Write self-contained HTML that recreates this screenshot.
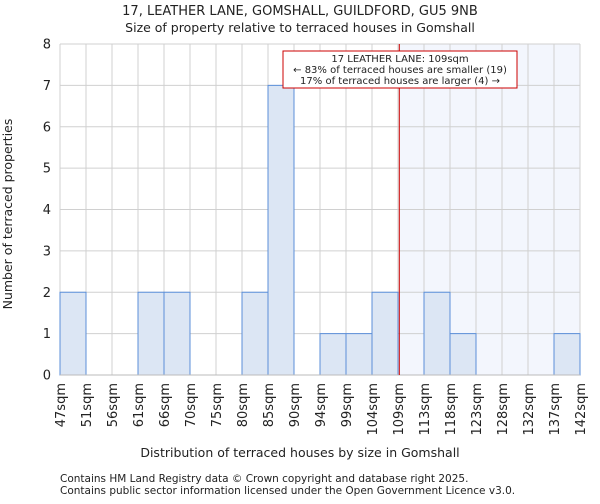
<!DOCTYPE html>
<html><head><meta charset="utf-8"><style>
body{margin:0;background:#fff;font-family:"DejaVu Sans","Liberation Sans",sans-serif;}
svg text{font-family:"DejaVu Sans","Liberation Sans",sans-serif;fill:#222;}
</style></head><body>
<svg id="c" width="600" height="500">
<text x="300" y="15" font-size="13" text-anchor="middle">17, LEATHER LANE, GOMSHALL, GUILDFORD, GU5 9NB</text>
<text x="300" y="32" font-size="12.5" text-anchor="middle">Size of property relative to terraced houses in Gomshall</text>
<g id="plot"></g>
<text x="300" y="457" font-size="12.5" text-anchor="middle">Distribution of terraced houses by size in Gomshall</text>
<text transform="translate(12,214) rotate(-90)" font-size="12.5" text-anchor="middle">Number of terraced properties</text>
<text x="60" y="482" font-size="10.5">Contains HM Land Registry data © Crown copyright and database right 2025.</text>
<text x="60" y="494" font-size="10.5">Contains public sector information licensed under the Open Government Licence v3.0.</text>
</svg>
<script>
const categories=["47sqm","51sqm","56sqm","61sqm","66sqm","70sqm","75sqm","80sqm","85sqm","90sqm","94sqm","99sqm","104sqm","109sqm","113sqm","118sqm","123sqm","128sqm","132sqm","137sqm","142sqm"];
const counts=[2,0,0,2,2,0,0,2,7,0,1,1,2,0,2,1,0,0,0,1];
const yTicks=[0,1,2,3,4,5,6,7,8];
const markerBin=13.05;
const NS="http://www.w3.org/2000/svg";
const L=60,R=580,T=44,B=375,nb=counts.length,bw=(R-L)/nb;
const x=i=>L+i*bw, y=v=>B-(B-T)*v/8;
const g=document.getElementById('plot');
function mk(t,a,p){const e=document.createElementNS(NS,t);for(const k in a)e.setAttribute(k,a[k]);(p||g).appendChild(e);return e;}
let e;
e=mk('rect',{x:x(markerBin),y:T,width:R-x(markerBin),height:B-T,fill:'#f3f6fd'});


for(let i=0;i<=nb;i++){mk('line',{x1:x(i),x2:x(i),y1:T,y2:B,stroke:'#d0d0d0','stroke-width':1});}
yTicks.forEach(v=>{mk('line',{x1:L,x2:R,y1:y(v),y2:y(v),stroke:'#d0d0d0','stroke-width':1});
e=mk('text',{x:L-9,y:y(v)+4.5,'font-size':13,'text-anchor':'end'});e.textContent=v;

});
counts.forEach((c,i)=>{if(!c)return;e=mk('rect',{x:x(i),y:y(c),width:bw,height:B-y(c),fill:'#dce6f4',stroke:'#5b8fd9','stroke-width':1});

});
categories.forEach((c,i)=>{e=mk('text',{transform:`translate(${x(i)+5},${B+8}) rotate(-90)`,'font-size':13,'text-anchor':'end'});e.textContent=c;

});
mk('line',{x1:L,x2:R,y1:B,y2:B,stroke:'#bbb'});
e=mk('line',{x1:x(markerBin),x2:x(markerBin),y1:T,y2:B,stroke:'#cc0000','stroke-width':1});


e=mk('rect',{x:283,y:51,width:234,height:37,fill:'#fff',stroke:'#cc0000','stroke-width':1});


[["17 LEATHER LANE: 109sqm",62],["← 83% of terraced houses are smaller (19)",73],["17% of terraced houses are larger (4) →",84]].forEach(([t,yy])=>{e=mk('text',{x:400,y:yy,'font-size':10,'text-anchor':'middle'});e.textContent=t;

});
</script>
</body></html>
